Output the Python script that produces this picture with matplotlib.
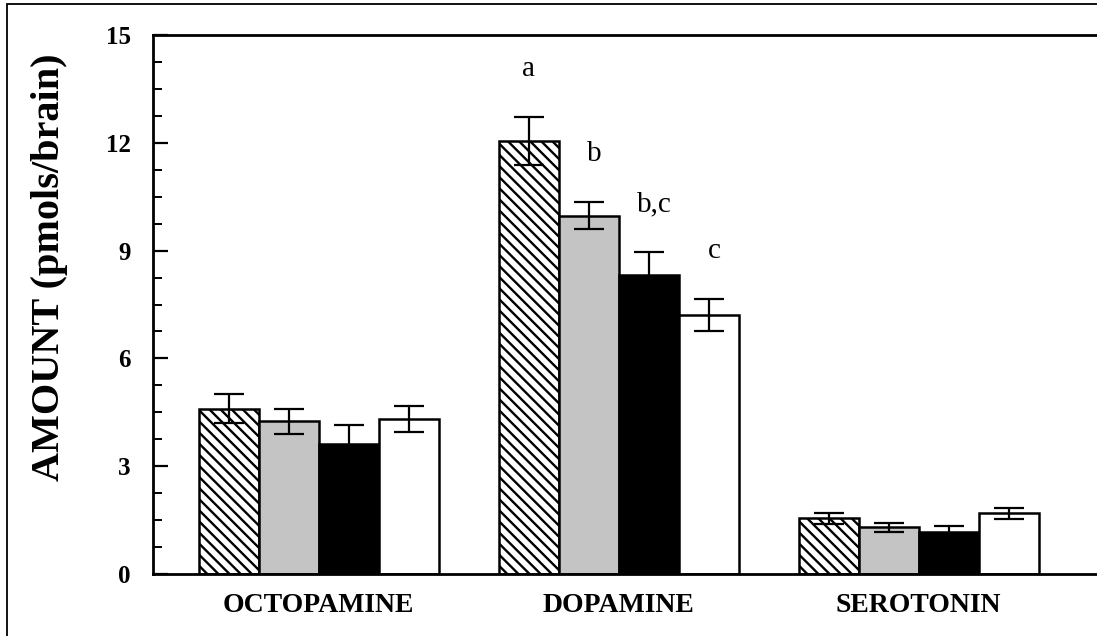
import numpy as np
import matplotlib
matplotlib.use("Agg")
import matplotlib.pyplot as plt
from matplotlib.patches import Rectangle
from matplotlib.ticker import MultipleLocator

plt.rcParams['font.family'] = ['Liberation Serif', 'DejaVu Serif']
plt.rcParams['hatch.linewidth'] = 1.7

# Data
categories = ['OCTOPAMINE', 'DOPAMINE', 'SEROTONIN']
hatched = [4.60, 12.05, 1.55]
hatched_err = [0.40, 0.66, 0.16]
stippled = [4.25, 9.97, 1.30]
stippled_err = [0.34, 0.37, 0.13]
black = [3.62, 8.32, 1.18]
black_err = [0.53, 0.63, 0.16]
white = [4.31, 7.21, 1.69]
white_err = [0.37, 0.44, 0.15]
dopamine_letters = ['a', 'b', 'b,c', 'c']

fig = plt.figure(figsize=(10.97, 6.36), dpi=100)
ax = fig.add_axes([153 / 1097, 1 - 574 / 636, (1097 - 153) / 1097, (574 - 35) / 636])

x = np.arange(len(categories))
w = 0.2
series = [
    (hatched, hatched_err, dict(facecolor='white', hatch='\\\\\\')),
    (stippled, stippled_err, dict(facecolor='#c4c4c4')),
    (black, black_err, dict(facecolor='black')),
    (white, white_err, dict(facecolor='white')),
]
offsets = [-1.5 * w, -0.5 * w, 0.5 * w, 1.5 * w]
for (vals, errs, style), off in zip(series, offsets):
    ax.bar(x + off, vals, w, edgecolor='black', linewidth=1.8, zorder=2, **style)
    ax.errorbar(x + off, vals, yerr=errs, fmt='none', ecolor='black',
                elinewidth=1.6, capsize=11, capthick=1.6, zorder=3)

# significance letters over the dopamine bars
for i, ((vals, errs, _), off) in enumerate(zip(series, offsets)):
    dx = 0.0 if i == 0 else 0.02
    ax.text(1 + off + dx, vals[1] + errs[1] + 1.35, dopamine_letters[i],
            ha='center', va='center', fontsize=21)

ax.set_xlim(-0.552, 2.595)
ax.set_ylim(0, 15)
ax.set_yticks([0, 3, 6, 9, 12, 15])
ax.yaxis.set_minor_locator(MultipleLocator(0.75))
ax.tick_params(axis='y', which='major', direction='in', length=11, width=1.6,
               pad=16, labelsize=18)
ax.tick_params(axis='y', which='minor', direction='in', length=6.5, width=1.4)
for lab in ax.get_yticklabels():
    lab.set_fontweight('bold')

ax.set_xticks(x)
ax.set_xticklabels(categories, fontsize=20, fontweight='bold')
ax.tick_params(axis='x', length=0, pad=14)

ax.set_ylabel('AMOUNT (pmols/brain)', fontsize=29, fontweight='bold')
ax.yaxis.set_label_coords(-0.09, 0.57)

ax.spines['right'].set_visible(False)
for s in ['left', 'bottom', 'top']:
    ax.spines[s].set_linewidth(2)

# outer frame of the figure
fig.add_artist(Rectangle((7 / 1097, -0.1), 1.2, 1 - 4 / 636 + 0.1,
                         transform=fig.transFigure, fill=False,
                         edgecolor='black', linewidth=1.3))

fig.savefig('out.png', dpi=100)
